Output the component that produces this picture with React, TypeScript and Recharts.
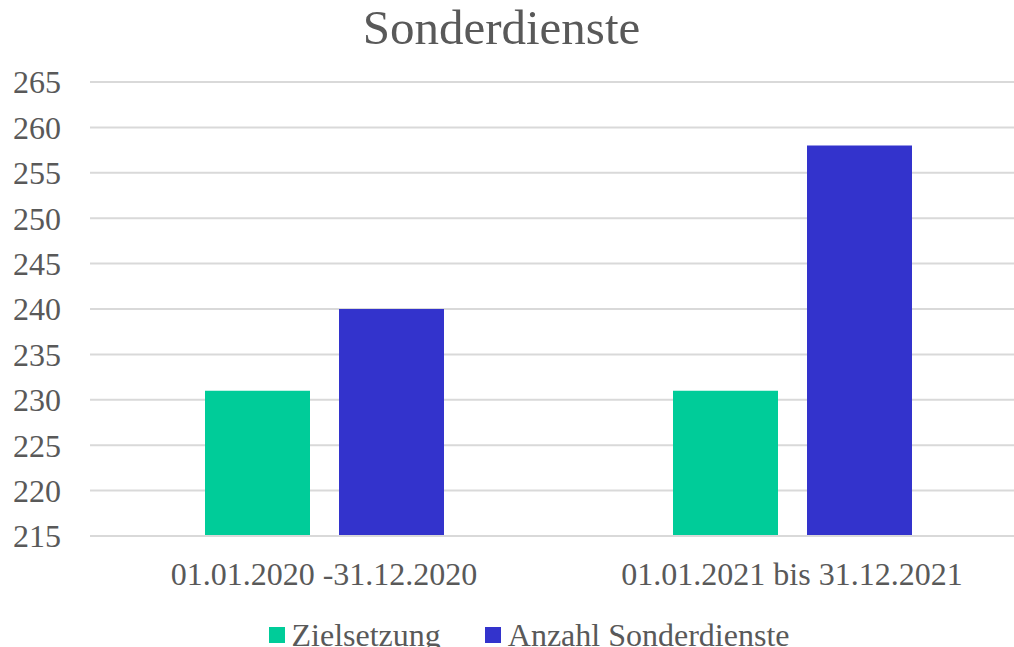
import React from "react";
import { BarChart, Bar, XAxis, YAxis, CartesianGrid, Legend } from "recharts";

const zeitraeume = ["01.01.2020 -31.12.2020", "01.01.2021 bis 31.12.2021"];
const zielsetzung = [231, 231];
const anzahlSonderdienste = [240, 258];
const yTicks = [215, 220, 225, 230, 235, 240, 245, 250, 255, 260, 265];
const serienReihenfolge = ["ziel", "anzahl"];

const FONT = "'Times New Roman', Times, 'Liberation Serif', serif";
const TEXT = "#595959";

const data = zeitraeume.map((z, i) => ({
  zeitraum: z,
  ziel: zielsetzung[i],
  anzahl: anzahlSonderdienste[i],
}));

const LegendContent = ({ payload }: any) => {
  const items = [...(payload || [])].sort(
    (a: any, b: any) => serienReihenfolge.indexOf(a.dataKey) - serienReihenfolge.indexOf(b.dataKey)
  );
  return (
    <div style={{ display: "flex", justifyContent: "center", alignItems: "center", paddingTop: 12, paddingLeft: 32 }}>
      {items.map((p: any, i: number) => (
        <div key={i} style={{ display: "flex", alignItems: "center", marginRight: i === 0 ? 44 : 0 }}>
          <div style={{ width: 16, height: 16, background: p.color, marginRight: 7 }} />
          <span style={{ fontFamily: FONT, fontSize: 32, color: TEXT, lineHeight: "34px" }}>{p.value}</span>
        </div>
      ))}
    </div>
  );
};

export default function App() {
  return (
    <div style={{ position: "absolute", left: 0, top: 0, width: 1014, height: 647, overflow: "hidden", background: "#fff" }}>
      <div
        style={{
          position: "absolute",
          top: 0,
          left: 0,
          width: 1003,
          textAlign: "center",
          fontFamily: FONT,
          fontSize: 49,
          color: TEXT,
          lineHeight: "56px",
        }}
      >
        Sonderdienste
      </div>
      <BarChart
        width={1030}
        height={647}
        data={data}
        margin={{ top: 82, right: 4, bottom: 0, left: 0 }}
        barSize={105}
        barGap={29}
      >
        <CartesianGrid vertical={false} stroke="#d9d9d9" strokeWidth={2} />
        <XAxis
          dataKey="zeitraum"
          height={70}
          axisLine={{ stroke: "#d9d9d9", strokeWidth: 2 }}
          tickLine={false}
          tickSize={0}
          tickMargin={26}
          tick={{ fill: TEXT, fontSize: 32, fontFamily: FONT }}
        />
        <YAxis
          width={90}
          domain={[215, 265]}
          ticks={yTicks}
          allowDataOverflow
          axisLine={false}
          tickLine={false}
          tickSize={0}
          tickMargin={29}
          tick={{ fill: TEXT, fontSize: 32, fontFamily: FONT }}
        />
        <Legend verticalAlign="bottom" height={41} content={<LegendContent />} />
        <Bar dataKey="ziel" name="Zielsetzung" fill="#00CC99" isAnimationActive={false} />
        <Bar dataKey="anzahl" name="Anzahl Sonderdienste" fill="#3333CC" isAnimationActive={false} />
      </BarChart>
    </div>
  );
}
